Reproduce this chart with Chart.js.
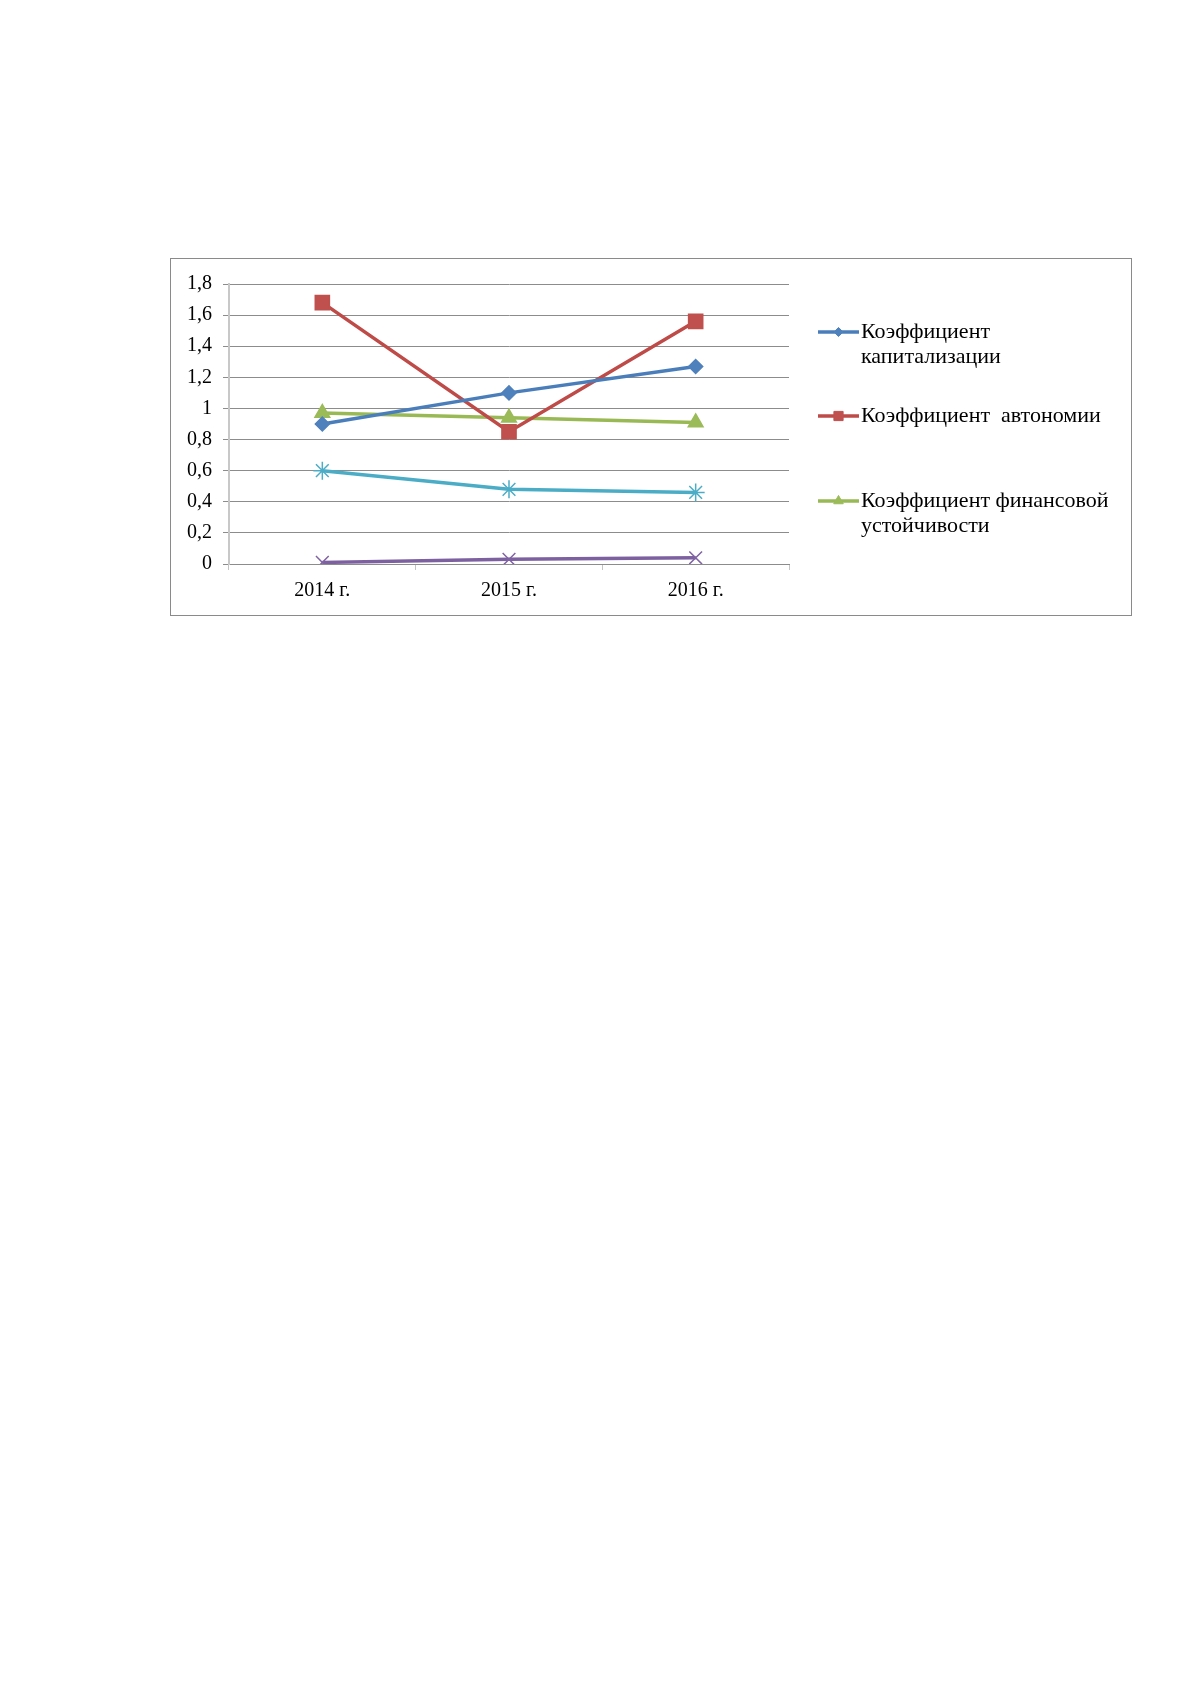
<!DOCTYPE html>
<html>
<head>
<meta charset="utf-8">
<script src="https://cdn.jsdelivr.net/npm/chart.js@4/dist/chart.umd.min.js"></script>
<style>
  body { margin: 0; background: #fff; }
  #frame {
    position: absolute;
    left: 170px; top: 258px;
    width: 960px; height: 356px;
    border: 1.5px solid #8a8a8a;
    background: #fff;
  }
</style>
</head>
<body>
<div id="frame"><canvas id="chart"></canvas></div>
<script>
// values
const categories = ['2014 г.', '2015 г.', '2016 г.']
const kapitalizacii = [0.90, 1.10, 1.27]
const avtonomii = [1.68, 0.85, 1.56]
const finUstoychivosti = [0.97, 0.94, 0.91]
const series4 = [0.60, 0.48, 0.46]
const series5 = [0.01, 0.03, 0.04]
const yTickLabels = ['0', '0,2', '0,4', '0,6', '0,8', '1', '1,2', '1,4', '1,6', '1,8']

// legend labels (only first three shown, as in the picture)
const legendLabels = [
  ['Коэффициент', 'капитализации'],
  ['Коэффициент  автономии'],
  ['Коэффициент финансовой', 'устойчивости']
]
const legendRows = [73, 157, 242]

const serif = 'Liberation Serif'

// draws the side legend like the excel one
const sideLegend = {
  id: 'sideLegend',
  afterDraw(chart) {
    const ctx = chart.ctx
    const x0 = 647
    const tx = 690
    ctx.save()
    ctx.font = '22px "' + serif + '"'
    ctx.textBaseline = 'middle'
    legendLabels.forEach((lines, i) => {
      const ds = chart.data.datasets[i]
      const y = legendRows[i]
      ctx.strokeStyle = ds.borderColor
      ctx.lineWidth = 3.5
      ctx.beginPath()
      ctx.moveTo(x0, y)
      ctx.lineTo(x0 + 41, y)
      ctx.stroke()
      ctx.fillStyle = ds.pointBackgroundColor
      ctx.strokeStyle = ds.pointBorderColor
      ctx.lineWidth = 1
      Chart.helpers.drawPoint(ctx, {pointStyle: ds.pointStyle, radius: ds.pointRadius * 0.65, borderWidth: 1}, x0 + 20.5, y)
      ctx.fillStyle = '#000'
      lines.forEach((t, j) => ctx.fillText(t, tx, y + j * 25))
    })
    ctx.restore()
  }
}

function line(label, data, color, style, radius, fill) {
  return {
    label: label,
    data: data,
    borderColor: color,
    borderWidth: 3.5,
    pointStyle: style,
    pointRadius: radius,
    pointHoverRadius: radius,
    pointBackgroundColor: fill,
    pointBorderColor: fill,
    pointBorderWidth: 1.5,
    tension: 0
  }
}

const chart = new Chart(document.getElementById('chart').getContext('2d'), {
  type: 'line',
  data: {
    labels: categories,
    datasets: [
      line(legendLabels[0].join(' '), kapitalizacii, '#4A7EBB', 'rectRot', 7, '#4F81BD'),
      line(legendLabels[1][0], avtonomii, '#BE4B48', 'rect', 10, '#C0504D'),
      line(legendLabels[2].join(' '), finUstoychivosti, '#98B954', 'triangle', 8.5, '#9BBB59'),
      line('Ряд 4', series4, '#4BACC6', 'star', 9, '#4BACC6'),
      line('Ряд 5', series5, '#7D60A0', 'crossRot', 9, '#8064A2')
    ]
  },
  options: {
    responsive: true,
    maintainAspectRatio: false,
    animation: false,
    layout: { padding: { top: 25, right: 342, left: 0, bottom: 0 } },
    plugins: {
      legend: { display: false },
      tooltip: { enabled: false }
    },
    scales: {
      x: {
        offset: true,
        afterFit: s => { s.height = 51 },
        grid: { offset: true, drawOnChartArea: false, drawTicks: true, tickLength: 6, color: '#c4c4c4' },
        border: { color: '#8c8c8c', width: 1 },
        ticks: { color: '#000', padding: 9, font: { family: serif, size: 20 } }
      },
      y: {
        min: 0,
        max: 1.8,
        afterFit: s => { s.width = 58 },
        grid: { color: '#8c8c8c', lineWidth: 1, tickLength: 6 },
        border: { color: '#c8c8c8', width: 2 },
        ticks: {
          stepSize: 0.2,
          color: '#000',
          padding: 11,
          font: { family: serif, size: 20 },
          callback: (v, i) => yTickLabels[i]
        }
      }
    }
  },
  plugins: [sideLegend]
})
</script>
</body>
</html>
